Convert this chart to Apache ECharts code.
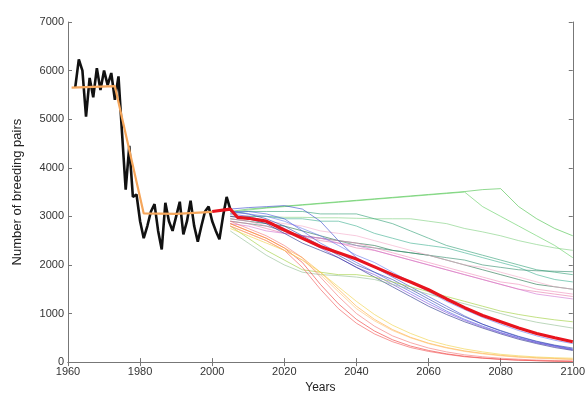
<!DOCTYPE html>
<html><head><meta charset="utf-8">
<script src="https://cdn.jsdelivr.net/npm/echarts@6/dist/echarts.min.js"></script>
<style>html,body{margin:0;padding:0;background:#fff}#c{width:588px;height:399px}</style>
</head><body><div id="c"></div>
<script>
// Observed breeding pairs
const obsYears = [1962,1963,1964,1965,1966,1967,1968,1969,1970,1971,1972,1973,1974,1975,1976,1977,1978,1979,1980,1981,1982,1983,1984,1985,1986,1987,1988,1989,1990,1991,1992,1993,1994,1995,1996,1997,1998,1999,2000,2001,2002,2003,2004,2005];
const obsValues = [5650,6230,6000,5050,5850,5450,6050,5600,6000,5700,5950,5400,5880,4700,3550,4450,3400,3450,2900,2550,2800,3100,3250,2700,2320,3280,2900,2700,3000,3300,2630,2900,3320,2800,2480,2800,3100,3200,2900,2700,2530,3000,3400,3150];
// Piecewise fit
const fitYears = [1961,1973,1981,1990,2000];
const fitValues = [5650,5680,3060,3050,3090];
// Mean projection (thick red)
const meanYears = [2000,2005,2007,2010,2015,2020,2025,2030,2035,2040,2045,2050,2055,2060,2065,2070,2075,2080,2085,2090,2095,2100];
const meanValues = [3100,3150,2980,2960,2900,2720,2550,2380,2250,2120,1960,1800,1650,1490,1300,1120,960,830,700,590,500,420];
// Individual simulations
const projYears = [2005,2010,2015,2020,2025,2030,2035,2040,2045,2050,2055,2060,2065,2070,2075,2080,2085,2090,2095,2100];
const simG1 = [3100,3150,3180,3210,3240,3270,3300,3330,3360,3390,3420,3450,3480,3510,3550,3570,3200,2950,2750,2600];
const simG2 = [3080,3130,3170,3200,3230,3260,3290,3320,3350,3380,3410,3440,3470,3500,3200,3000,2800,2600,2400,2150];
const simG3 = [3000,3000,3000,2980,2980,2970,2970,2960,2950,2950,2950,2900,2850,2750,2680,2600,2500,2420,2350,2300];
const simT1 = [3050,3100,3100,3100,3100,3050,3050,3050,2950,2850,2700,2550,2400,2300,2200,2100,2000,1900,1850,1800];
const simT2 = [3000,3000,3000,2950,2950,2900,2900,2800,2650,2550,2450,2400,2350,2250,2150,2050,1950,1800,1700,1650];
const simT3 = [2950,2900,2850,2800,2700,2600,2500,2450,2400,2300,2250,2200,2100,2000,1900,1800,1700,1600,1550,1500];
const simT4 = [2900,2850,2800,2700,2600,2550,2500,2400,2350,2300,2250,2200,2150,2100,2000,1950,1900,1880,1870,1860];
const simP1 = [2950,2900,2800,2700,2600,2550,2500,2450,2350,2250,2150,2050,1950,1850,1750,1650,1600,1500,1450,1400];
const simP2 = [2900,2850,2750,2650,2600,2500,2450,2350,2300,2200,2100,2000,1900,1800,1700,1600,1500,1450,1400,1350];
const simP3 = [2850,2800,2700,2650,2600,2550,2450,2400,2300,2200,2100,2000,1900,1800,1700,1600,1500,1400,1350,1300];
const simP4 = [3000,2950,2900,2850,2800,2700,2650,2600,2500,2400,2300,2200,2100,2000,1950,1850,1750,1650,1550,1500];
const simB1 = [3150,3180,3200,3220,3150,2900,2500,2150,1950,1750,1550,1350,1150,950,780,640,520,420,340,270];
const simB2 = [3100,3100,3050,2950,2700,2450,2250,2050,1850,1650,1450,1250,1050,880,740,610,500,400,330,260];
const simB3 = [3050,3000,2900,2750,2550,2350,2150,1950,1800,1600,1400,1200,1020,860,720,600,490,400,320,250];
const simB4 = [3100,3050,2950,2800,2600,2400,2200,2000,1850,1700,1500,1300,1100,930,780,650,530,430,350,290];
const simB5 = [3000,2950,2850,2650,2450,2300,2150,1950,1750,1550,1350,1150,980,830,700,580,470,380,300,240];
const simB6 = [3100,3050,3000,2900,2750,2600,2400,2200,2050,1850,1650,1450,1250,1080,920,780,650,540,450,380];
const simL1 = [2800,2550,2300,2100,1900,1850,1800,1800,1750,1650,1550,1450,1350,1250,1150,1050,980,920,870,830];
const simL2 = [2700,2450,2200,2000,1850,1800,1780,1750,1700,1600,1500,1400,1300,1200,1100,1000,900,820,760,700];
const simR1 = [2850,2700,2550,2350,2050,1600,1200,880,640,460,330,240,170,120,85,60,40,30,20,15];
const simR2 = [2800,2650,2500,2300,1950,1500,1100,800,580,420,300,220,160,110,80,55,40,28,20,14];
const simR3 = [2900,2750,2600,2400,2150,1750,1350,1000,740,540,400,290,210,150,110,80,60,42,30,22];
const simO1 = [2850,2700,2550,2350,2150,1850,1500,1150,880,670,510,390,300,230,180,140,110,90,75,60];
const simO2 = [2750,2600,2450,2300,2100,1850,1550,1250,980,760,590,450,350,270,210,160,130,105,90,80];
const simO3 = [2800,2650,2500,2300,2100,1800,1450,1100,850,650,500,380,290,220,170,130,100,80,65,55];

const sims = [
  [simG1,'#44c044'],[simG2,'#5fcf5f'],[simG3,'#7ccf7c'],
  [simT1,'#2e9e74'],[simT2,'#3aae8e'],[simT3,'#1f6e48'],[simT4,'#2f8a6a'],
  [simP1,'#f08cb8'],[simP2,'#e878a8'],[simP3,'#d070d0'],[simP4,'#f4a8c8'],
  [simB1,'#3344cc'],[simB2,'#4455dd'],[simB3,'#7744dd'],[simB4,'#2a3aa8'],[simB5,'#1e2a88'],[simB6,'#6677ee'],
  [simL1,'#9acd32'],[simL2,'#8fbc8f'],
  [simR1,'#ee3333'],[simR2,'#f25050'],[simR3,'#f47070'],
  [simO1,'#ffaa33'],[simO2,'#f0d040'],[simO3,'#ffc070']
];
const pairs = (xs, ys) => xs.map((x, i) => [x, ys[i]]);

const series = sims.map(([vals, col]) => ({
  type: 'line', data: pairs(projYears, vals), showSymbol: false, silent: true,
  lineStyle: { color: col, width: 0.8, opacity: 0.75 }, z: 2
}));
series.push({ type: 'line', data: pairs(obsYears, obsValues), showSymbol: false,
  lineStyle: { color: '#111', width: 2.6 }, z: 3 });
series.push({ type: 'line', data: pairs(fitYears, fitValues), showSymbol: false,
  lineStyle: { color: '#f5a65b', width: 2.2 }, z: 4 });
series.push({ type: 'line', data: pairs(meanYears, meanValues), showSymbol: false,
  lineStyle: { color: '#e8141e', width: 3.2 }, z: 5 });

const chart = echarts.init(document.getElementById('c'));
const fontFam = 'Liberation Sans, Arial, sans-serif';
const axisTxt = { color: '#333', fontSize: 11, fontFamily: fontFam, formatter: v => String(v) };
chart.setOption({
  animation: false,
  grid: { left: 68, right: 13, top: 22, bottom: 33 },
  xAxis: [
    { type: 'value', min: 1960, max: 2100, interval: 20, position: 'bottom',
      name: 'Years', nameLocation: 'middle', nameGap: 18, nameTextStyle: { color: '#222', fontSize: 12, fontFamily: fontFam },
      axisLine: { lineStyle: { color: '#777' } }, axisTick: { inside: true, length: 4, lineStyle: { color: '#777' } },
      axisLabel: Object.assign({ margin: 4 }, axisTxt), splitLine: { show: false } },
    { type: 'value', min: 1960, max: 2100, interval: 20, position: 'top',
      axisLine: { lineStyle: { color: '#777' } }, axisTick: { inside: true, length: 4, lineStyle: { color: '#777' } },
      axisLabel: { show: false }, splitLine: { show: false } }
  ],
  yAxis: [
    { type: 'value', min: 0, max: 7000, interval: 1000, position: 'left',
      name: 'Number of breeding pairs', nameLocation: 'middle', nameGap: 44, nameRotate: 90,
      nameTextStyle: { color: '#222', fontSize: 13, fontFamily: fontFam },
      axisLine: { show: true, lineStyle: { color: '#777' } }, axisTick: { show: true, inside: true, length: 4, lineStyle: { color: '#777' } },
      axisLabel: Object.assign({ margin: 4 }, axisTxt), splitLine: { show: false } },
    { type: 'value', min: 0, max: 7000, interval: 1000, position: 'right',
      axisLine: { show: true, lineStyle: { color: '#777' } }, axisTick: { show: true, inside: true, length: 4, lineStyle: { color: '#777' } },
      axisLabel: { show: false }, splitLine: { show: false } }
  ],
  series: series
});
</script></body></html>
